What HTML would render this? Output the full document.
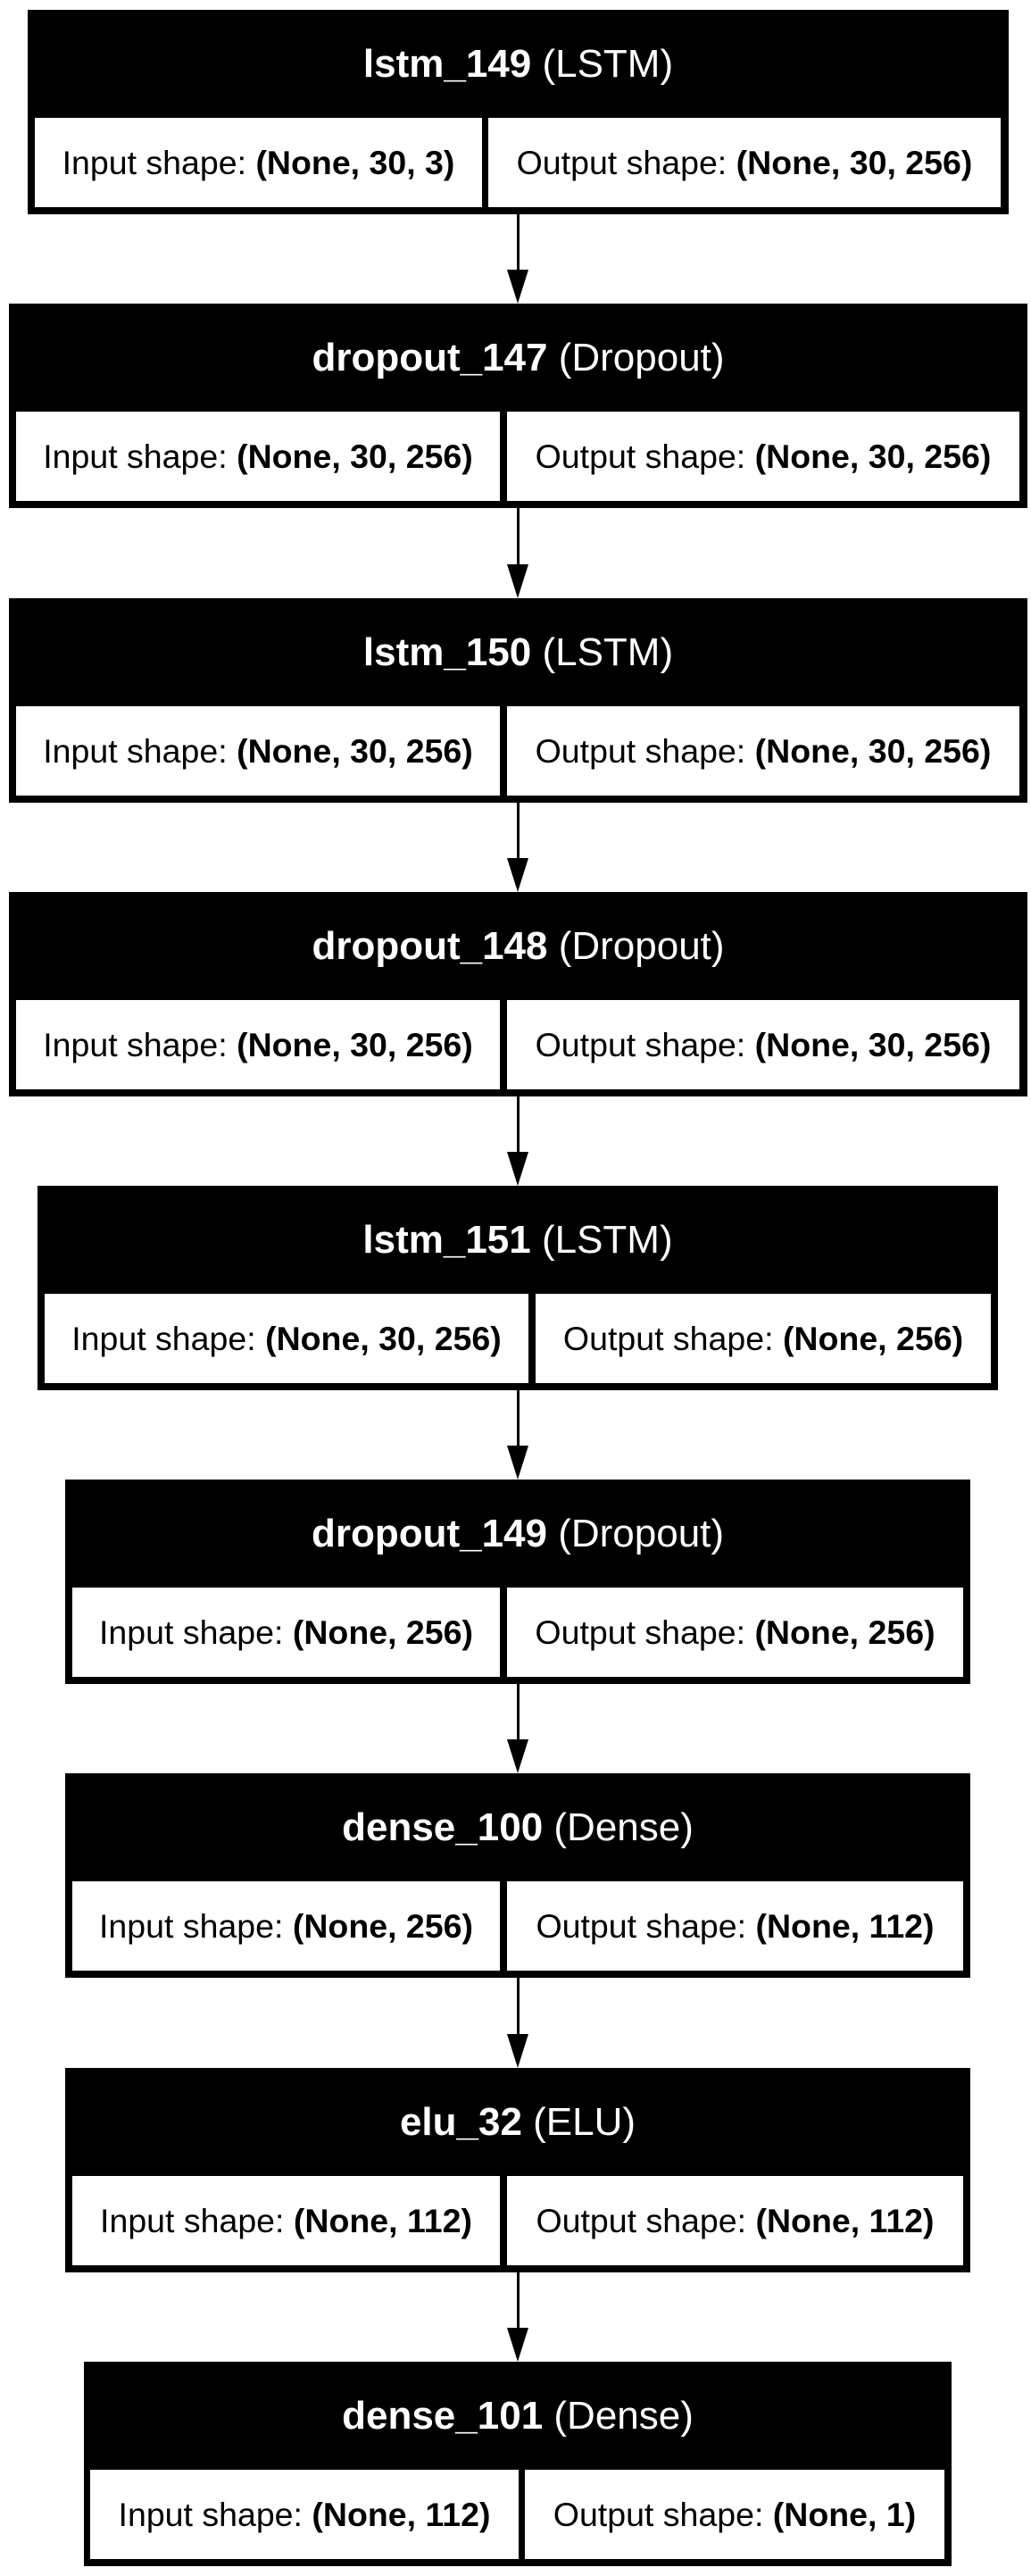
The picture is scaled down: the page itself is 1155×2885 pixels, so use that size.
<!DOCTYPE html>
<html><head><meta charset="utf-8"><style>
body{margin:0;width:1155px;height:2885px;background:#fff;position:relative;overflow:hidden;font-family:"Liberation Sans",Arial,sans-serif}
.n{position:absolute;background:#000;height:229px}
.h{position:absolute;left:0;right:0;top:0;height:121px;display:flex;align-items:center;justify-content:center;color:#fff;font-size:44px;white-space:nowrap}
.c{position:absolute;top:121px;height:100px;background:#fff;display:flex;align-items:center;justify-content:center;font-size:37.5px;white-space:nowrap;color:#000}
b{font-weight:bold}
.l{position:absolute;left:578.5px;width:3px;background:#000}
svg.a{position:absolute;left:568px}
</style></head><body>
<div class="n" style="left:31px;width:1099px;top:11px"><div class="h"><b>lstm_149</b>&nbsp;(LSTM)</div><div class="c" style="left:8px;width:501px">Input shape:&nbsp;<b>(None, 30, 3)</b></div><div class="c" style="left:516px;width:574px">Output shape:&nbsp;<b>(None, 30, 256)</b></div></div>
<div class="n" style="left:10px;width:1141px;top:340px"><div class="h"><b>dropout_147</b>&nbsp;(Dropout)</div><div class="c" style="left:8px;width:542px">Input shape:&nbsp;<b>(None, 30, 256)</b></div><div class="c" style="left:558px;width:574px">Output shape:&nbsp;<b>(None, 30, 256)</b></div></div>
<div class="n" style="left:10px;width:1141px;top:670px"><div class="h"><b>lstm_150</b>&nbsp;(LSTM)</div><div class="c" style="left:8px;width:542px">Input shape:&nbsp;<b>(None, 30, 256)</b></div><div class="c" style="left:558px;width:574px">Output shape:&nbsp;<b>(None, 30, 256)</b></div></div>
<div class="n" style="left:10px;width:1141px;top:999px"><div class="h"><b>dropout_148</b>&nbsp;(Dropout)</div><div class="c" style="left:8px;width:542px">Input shape:&nbsp;<b>(None, 30, 256)</b></div><div class="c" style="left:558px;width:574px">Output shape:&nbsp;<b>(None, 30, 256)</b></div></div>
<div class="n" style="left:42px;width:1076px;top:1328px"><div class="h"><b>lstm_151</b>&nbsp;(LSTM)</div><div class="c" style="left:8px;width:542px">Input shape:&nbsp;<b>(None, 30, 256)</b></div><div class="c" style="left:558px;width:510px">Output shape:&nbsp;<b>(None, 256)</b></div></div>
<div class="n" style="left:73px;width:1014px;top:1657px"><div class="h"><b>dropout_149</b>&nbsp;(Dropout)</div><div class="c" style="left:8px;width:479px">Input shape:&nbsp;<b>(None, 256)</b></div><div class="c" style="left:495px;width:511px">Output shape:&nbsp;<b>(None, 256)</b></div></div>
<div class="n" style="left:73px;width:1014px;top:1986px"><div class="h"><b>dense_100</b>&nbsp;(Dense)</div><div class="c" style="left:8px;width:479px">Input shape:&nbsp;<b>(None, 256)</b></div><div class="c" style="left:495px;width:511px">Output shape:&nbsp;<b>(None, 112)</b></div></div>
<div class="n" style="left:73px;width:1014px;top:2316px"><div class="h"><b>elu_32</b>&nbsp;(ELU)</div><div class="c" style="left:8px;width:479px">Input shape:&nbsp;<b>(None, 112)</b></div><div class="c" style="left:495px;width:511px">Output shape:&nbsp;<b>(None, 112)</b></div></div>
<div class="n" style="left:94px;width:972px;top:2645px"><div class="h"><b>dense_101</b>&nbsp;(Dense)</div><div class="c" style="left:7px;width:480px">Input shape:&nbsp;<b>(None, 112)</b></div><div class="c" style="left:494px;width:470px">Output shape:&nbsp;<b>(None, 1)</b></div></div>

<div class="l" style="top:240px;height:64px"></div><svg class="a" style="top:302px" width="24" height="38"><polygon points="0,0 24,0 12,38" fill="#000"/></svg>
<div class="l" style="top:569px;height:64px"></div><svg class="a" style="top:632px" width="24" height="38"><polygon points="0,0 24,0 12,38" fill="#000"/></svg>
<div class="l" style="top:899px;height:64px"></div><svg class="a" style="top:961px" width="24" height="38"><polygon points="0,0 24,0 12,38" fill="#000"/></svg>
<div class="l" style="top:1228px;height:64px"></div><svg class="a" style="top:1290px" width="24" height="38"><polygon points="0,0 24,0 12,38" fill="#000"/></svg>
<div class="l" style="top:1557px;height:64px"></div><svg class="a" style="top:1619px" width="24" height="38"><polygon points="0,0 24,0 12,38" fill="#000"/></svg>
<div class="l" style="top:1886px;height:64px"></div><svg class="a" style="top:1948px" width="24" height="38"><polygon points="0,0 24,0 12,38" fill="#000"/></svg>
<div class="l" style="top:2215px;height:64px"></div><svg class="a" style="top:2278px" width="24" height="38"><polygon points="0,0 24,0 12,38" fill="#000"/></svg>
<div class="l" style="top:2545px;height:64px"></div><svg class="a" style="top:2607px" width="24" height="38"><polygon points="0,0 24,0 12,38" fill="#000"/></svg>
</body></html>
